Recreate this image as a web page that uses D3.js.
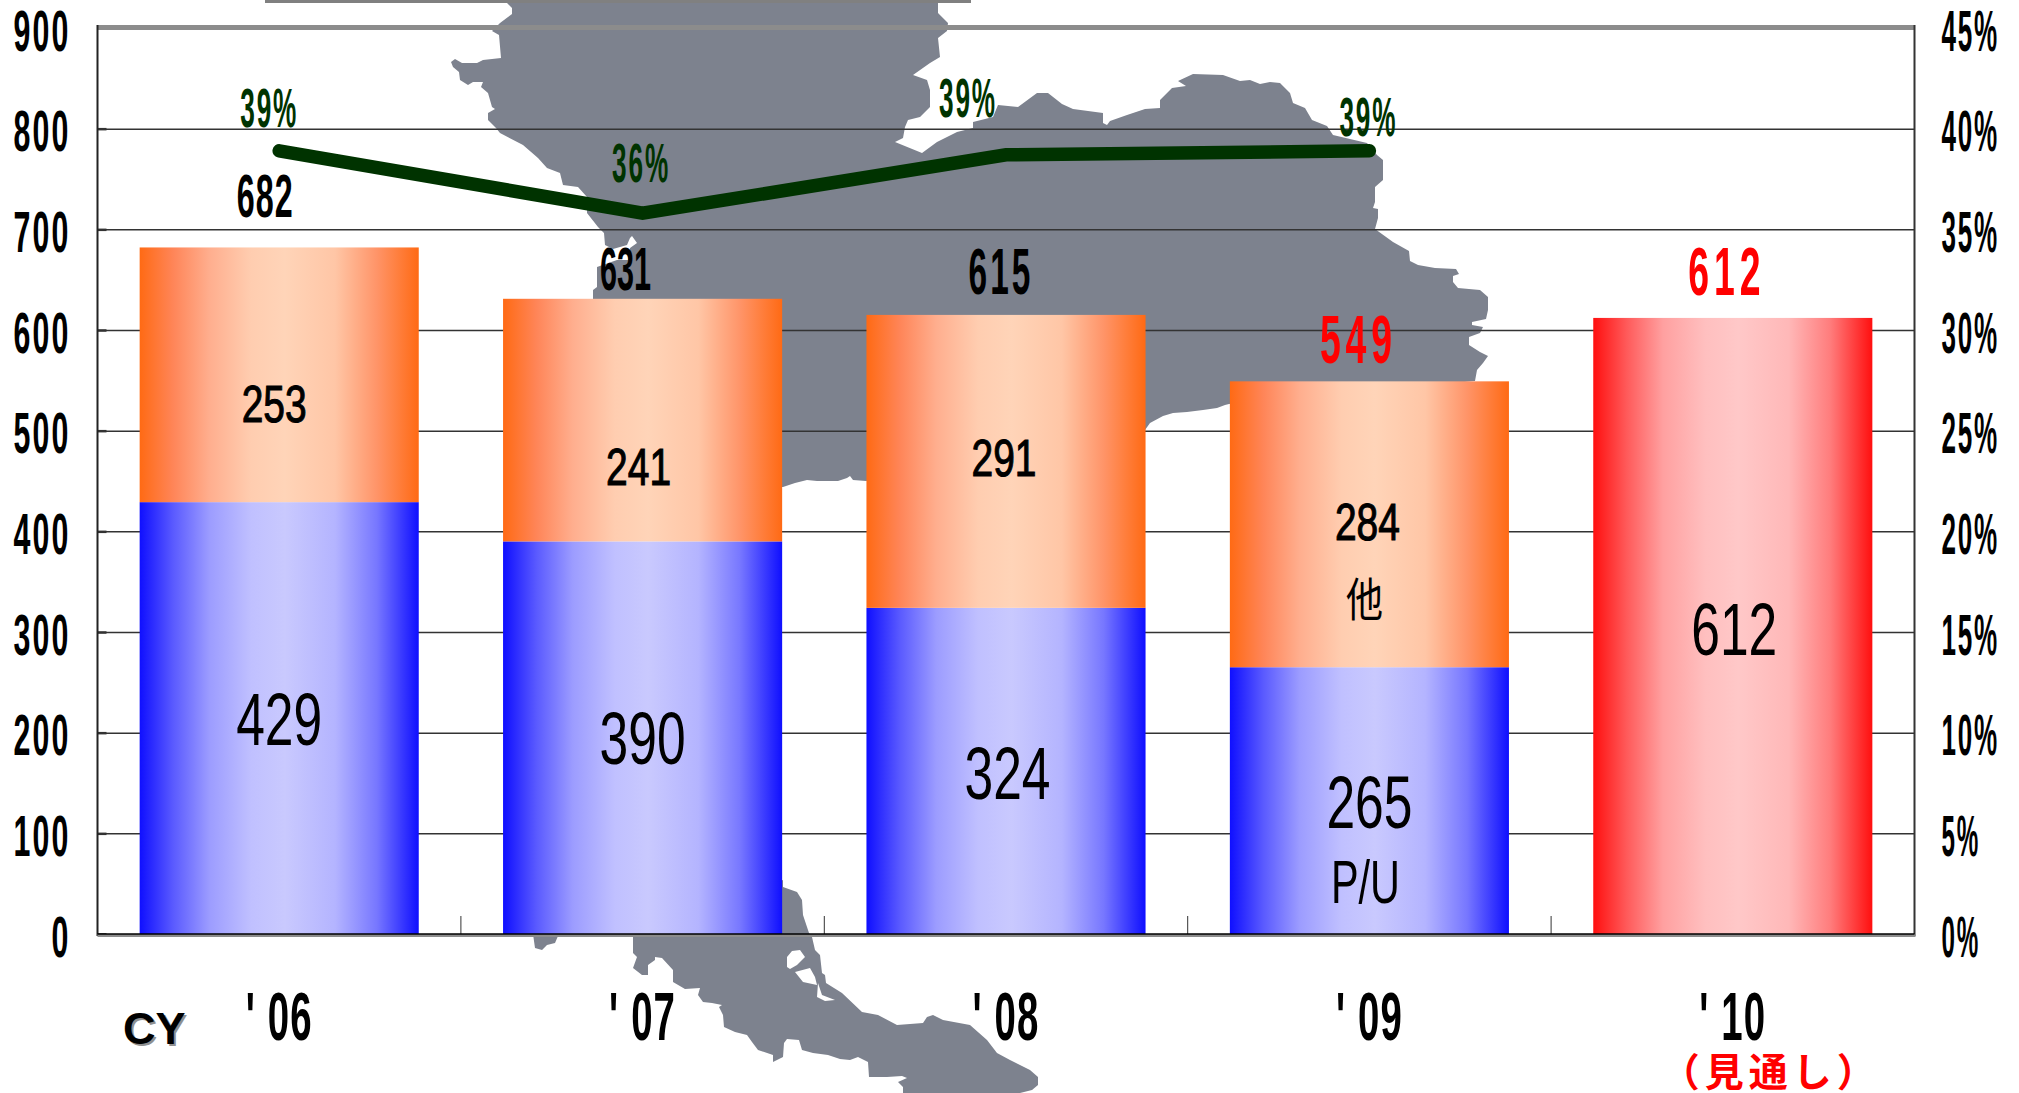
<!DOCTYPE html>
<html>
<head>
<meta charset="utf-8">
<style>
  html, body { margin: 0; padding: 0; background: #fff; }
  svg { display: block; }
  text { font-family: "Liberation Sans", Arial, sans-serif; }
  .cjk { font-family: "Noto Sans CJK JP", sans-serif; }
</style>
<script src="https://cdn.jsdelivr.net/npm/d3@7"></script>
</head>
<body>
<svg id="myGraph" width="2019" height="1093"></svg>
<script>
// data
var categories = ["' 06", "' 07", "' 08", "' 09", "' 10"];
var puValues = [429, 390, 324, 265, 0];
var otherValues = [253, 241, 291, 284, 0];
var forecastValues = [0, 0, 0, 0, 612];
var totalValues = [682, 631, 615, 549, 612];
var ratioValues = [38.9, 35.8, 38.7, 38.9];
var leftTicks = [0, 100, 200, 300, 400, 500, 600, 700, 800, 900];
var rightTicks = [0, 5, 10, 15, 20, 25, 30, 35, 40, 45];

// label nudges, the source labels were placed by hand
var totalNudge = [[-14, -30, 57, 61, 2], [-17, -9, 51, 61, 0], [-5, -21, 65, 65, 6], [-11, -18, 77, 69, 9], [-6, -23, 77, 69, 9]];
var ratioNudge = [[-10, -24], [-1.5, -31], [-38, -38], [-1, -15]];
var puNudge = [[0, 1.5], [0, 1.5], [1.5, 3.5], [0, 2], [1.5, 4]];
var otherNudge = [[-5, 29], [-4, 46], [-2, -4], [-2, -2.5]];

// background map, traced in page pixels
var mapUpper = [[507,3],[512,8],[512,14],[500,23],[492,31],[499,35],[501,58],[483,60],[477,63],[462,63],[455,59],[451,62],[453,67],[459,72],[460,80],[468,85],[473,82],[483,82],[481,87],[488,93],[492,107],[495,109],[488,113],[488,120],[496,128],[500,133],[523,145],[538,158],[547,168],[560,173],[563,185],[578,187],[587,197],[587,213],[598,227],[604,233],[605,245],[613,249],[627,245],[630,238],[632,236],[637,243],[630,248],[628,260],[617,260],[597,267],[597,287],[593,290],[593,299],[600,480],[783,487],[795,483],[807,480],[817,481],[838,481],[847,478],[850,476],[853,480],[866,481],[1145,430],[1150,423],[1163,416],[1173,413],[1187,412],[1203,410],[1217,408],[1225,405],[1229,404],[1475,381],[1477,370],[1483,363],[1488,356],[1480,352],[1469,345],[1469,337],[1480,333],[1483,327],[1472,325],[1472,322],[1486,319],[1488,310],[1488,297],[1480,290],[1458,288],[1453,282],[1453,276],[1459,274],[1456,269],[1435,268],[1418,265],[1410,261],[1409,251],[1393,242],[1375,229],[1378,218],[1378,209],[1373,208],[1375,202],[1375,187],[1383,180],[1383,160],[1377,155],[1367,143],[1333,135],[1327,126],[1312,120],[1305,108],[1293,103],[1290,93],[1280,83],[1270,82],[1260,84],[1250,80],[1240,81],[1223,75],[1193,74],[1178,81],[1186,86],[1172,88],[1160,100],[1160,108],[1145,109],[1127,115],[1110,121],[1107,125],[1103,123],[1103,113],[1073,109],[1062,104],[1048,93],[1037,93],[1018,107],[998,105],[993,117],[973,122],[973,128],[957,132],[937,142],[922,153],[895,142],[903,138],[905,127],[908,120],[920,117],[930,107],[930,90],[927,80],[913,75],[930,63],[940,57],[938,38],[947,31],[948,23],[938,13],[938,3]];
var mapLower = [[633,934],[783,880],[783,887],[797,892],[802,900],[803,915],[807,927],[809,933],[812,937],[815,950],[820,955],[822,973],[825,975],[826,983],[842,993],[862,1012],[878,1015],[897,1025],[923,1023],[927,1017],[933,1015],[943,1020],[970,1025],[987,1040],[997,1053],[1010,1060],[1030,1070],[1038,1077],[1038,1085],[1032,1090],[1020,1093],[903,1093],[903,1087],[898,1082],[907,1078],[902,1076],[887,1077],[869,1077],[868,1062],[858,1057],[850,1060],[840,1059],[828,1055],[813,1053],[802,1050],[799,1040],[787,1039],[784,1043],[783,1057],[773,1062],[773,1055],[758,1050],[752,1042],[747,1035],[735,1032],[724,1027],[723,1015],[719,1007],[722,1005],[712,1003],[703,1002],[698,995],[700,988],[685,989],[673,982],[673,970],[662,958],[655,957],[655,960],[648,965],[648,975],[642,975],[633,968],[637,957],[633,953]];
var mapHoleA = [[787,957],[792,951],[800,950],[805,957],[797,965],[790,969],[787,967]];
var mapHoleB = [[795,972],[810,968],[815,977],[817,985],[803,982]];
var mapHoleC = [[818,983],[822,995],[835,1000],[825,1001],[817,997]];
var mapIslet = [[533,934],[535,948],[542,950],[547,945],[555,943],[558,936]];

var svg = d3.select("#myGraph");

// range limit
var plotLeft = 97.5;
var plotRight = 1914.5;
var plotTop = 28;
var plotBottom = 934;

var x = d3.scaleBand().domain(categories).range([plotLeft, plotRight]).paddingInner(0.232).paddingOuter(0.116);
var y = d3.scaleLinear().domain([0, 900]).range([plotBottom, plotTop]);
var yRatio = d3.scaleLinear().domain([0, 45]).range([plotBottom, plotTop]);

var table = categories.map(function (c, i) {
  return { cat: c, pu: puValues[i], other: otherValues[i], forecast: forecastValues[i] };
});
var stacked = d3.stack().keys(["pu", "other", "forecast"])(table);

// gradients
var defs = svg.append("defs");
var gradOffsets = [0, 0.12, 0.25, 0.4, 0.52, 0.7, 0.85, 1];
function addGradient(id, colors) {
  var g = defs.append("linearGradient").attr("id", id).attr("x1", 0).attr("x2", 1).attr("y1", 0).attr("y2", 0);
  colors.forEach(function (c, i) {
    g.append("stop").attr("offset", gradOffsets[i]).attr("stop-color", c);
  });
}
addGradient("grad-pu", ["#0f0fff", "#5a5aff", "#9c9cff", "#c0c0ff", "#c9c9fe", "#b4b4ff", "#7777ff", "#0f0fff"]);
addGradient("grad-other", ["#ff6a14", "#ff8558", "#ffae8e", "#ffcdb0", "#ffd4b8", "#ffc6a6", "#ff9468", "#ff6a14"]);
addGradient("grad-forecast", ["#ff0f0f", "#ff5a5a", "#ffa0a0", "#ffbfbf", "#ffc8c8", "#ffb8b8", "#ff7c7c", "#ff0f0f"]);

// map
var mapLine = d3.line();
svg.append("rect").attr("x", 265).attr("y", 0).attr("width", 706).attr("height", 3).attr("fill", "#808080");
svg.append("path")
  .attr("d", [mapUpper, mapLower, mapHoleA, mapHoleB, mapHoleC, mapIslet].map(function (p) { return mapLine(p) + "Z"; }).join(""))
  .attr("fill", "#7d828e")
  .attr("fill-rule", "evenodd");

// squeeze text sideways to the narrow look of the original
function squeeze(sel, w) {
  sel.each(function () {
    var sx = w / this.getComputedTextLength();
    var x0 = +this.getAttribute("x") || 0;
    this.setAttribute("x", 0);
    this.setAttribute("transform", "translate(" + x0 + ",0) scale(" + sx + ",1)");
  });
}

// axis y left, tick lines are the grid
var yAxis = d3.axisLeft(y).tickValues(leftTicks).tickSize(-(plotRight - plotLeft)).tickPadding(27);
var gLeft = svg.append("g").attr("class", "axis").attr("transform", "translate(" + plotLeft + ",0)").call(yAxis);
gLeft.select(".domain").remove();
gLeft.selectAll("line").attr("stroke", "#333").attr("stroke-width", 1.5);
gLeft.selectAll(".tick").filter(function (d) { return d === 900 || d === 0; }).select("line").remove();
gLeft.selectAll("text")
  .attr("font-size", 57).attr("font-weight", "bold").attr("fill", "#000")
  .attr("font-family", "Liberation Sans")
  .attr("letter-spacing", 4)
  .attr("dy", "0.39em")
  .each(function (d) { squeeze(d3.select(this), String(d).length * 19); });

// short darker stubs on the left axis
var gStub = svg.append("g").attr("transform", "translate(" + plotLeft + ",0)")
  .call(d3.axisLeft(y).tickValues(leftTicks).tickSize(-9).tickFormat(""));
gStub.select(".domain").remove();
gStub.selectAll("line").attr("stroke", "#333").attr("stroke-width", 2.5);

// axis y right
var yAxisRight = d3.axisRight(yRatio).tickValues(rightTicks).tickSize(0).tickPadding(27).tickFormat(function (d) { return d + "%"; });
var gRight = svg.append("g").attr("class", "axis").attr("transform", "translate(" + plotRight + ",0)").call(yAxisRight);
gRight.select(".domain").remove();
gRight.selectAll("text")
  .attr("font-size", 57).attr("font-weight", "bold").attr("fill", "#000")
  .attr("font-family", "Liberation Sans")
  .attr("letter-spacing", 4)
  .attr("dy", "0.39em")
  .each(function (d) { squeeze(d3.select(this), (String(d).length + 1) * 19.2); });

// frame
svg.append("rect").attr("x", plotLeft).attr("y", plotTop - 3).attr("width", plotRight - plotLeft).attr("height", 5).attr("fill", "#8c8c8c");
svg.append("line").attr("x1", plotLeft).attr("x2", plotLeft).attr("y1", plotTop - 3).attr("y2", plotBottom + 2).attr("stroke", "#222").attr("stroke-width", 2);
svg.append("line").attr("x1", plotRight).attr("x2", plotRight).attr("y1", plotTop - 3).attr("y2", plotBottom + 2).attr("stroke", "#333").attr("stroke-width", 2);

// ticks between the categories
svg.selectAll(".sep").data(categories.slice(1)).enter().append("line")
  .attr("class", "sep")
  .attr("x1", function (d) { return x(d) - (x.step() - x.bandwidth()) / 2; })
  .attr("x2", function (d) { return x(d) - (x.step() - x.bandwidth()) / 2; })
  .attr("y1", plotBottom - 18).attr("y2", plotBottom)
  .attr("stroke", "#333").attr("stroke-width", 1);

// bars
var gradIds = ["grad-pu", "grad-other", "grad-forecast"];
svg.selectAll(".layer").data(stacked).enter().append("g")
  .attr("class", "layer")
  .attr("fill", function (d, i) { return "url(#" + gradIds[i] + ")"; })
  .selectAll("rect").data(function (d) { return d; }).enter().append("rect")
  .attr("x", function (d) { return x(d.data.cat); })
  .attr("y", function (d) { return y(d[1]); })
  .attr("width", x.bandwidth())
  .attr("height", function (d) { return y(d[0]) - y(d[1]); });

// axis x
var xAxis = d3.axisBottom(x).tickSize(0).tickPadding(58);
var gBottom = svg.append("g").attr("class", "axis").attr("transform", "translate(0," + plotBottom + ")").call(xAxis);
gBottom.select(".domain").remove();
gBottom.selectAll("text")
  .attr("font-size", 68).attr("font-weight", "bold").attr("fill", "#000")
  .attr("font-family", "Liberation Sans")
  .attr("letter-spacing", 2)
  .attr("dy", "0.71em")
  .each(function () { squeeze(d3.select(this), 67); });
svg.append("rect").attr("x", plotLeft).attr("y", plotBottom).attr("width", plotRight - plotLeft + 1).attr("height", 3).attr("fill", "#8c8c8c");
svg.append("line").attr("x1", plotLeft).attr("x2", plotRight).attr("y1", plotBottom).attr("y2", plotBottom).attr("stroke", "#000").attr("stroke-width", 1.5);

// ratio line
var ratioLine = d3.line()
  .x(function (d, i) { return x(categories[i]) + x.bandwidth() / 2; })
  .y(function (d) { return yRatio(d); });
svg.append("path")
  .attr("d", ratioLine(ratioValues))
  .attr("fill", "none")
  .attr("stroke", "#003300")
  .attr("stroke-width", 13.5)
  .attr("stroke-linecap", "round")
  .attr("stroke-linejoin", "miter");

function bandMid(i) {
  return x(categories[i]) + x.bandwidth() / 2;
}

// ratio labels
svg.selectAll(".ratioNum").data(ratioValues).enter().append("text")
  .attr("class", "ratioNum")
  .attr("text-anchor", "middle")
  .attr("x", function (d, i) { return bandMid(i) + ratioNudge[i][0]; })
  .attr("y", function (d, i) { return yRatio(d) + ratioNudge[i][1]; })
  .attr("font-size", 56).attr("font-weight", "bold").attr("fill", "#003300")
  .attr("letter-spacing", 4)
  .text(function (d) { return Math.round(d) + "%"; })
  .each(function () { squeeze(d3.select(this), 58); });

// total labels
svg.selectAll(".totalNum").data(totalValues).enter().append("text")
  .attr("class", "totalNum")
  .attr("text-anchor", "middle")
  .attr("x", function (d, i) { return bandMid(i) + totalNudge[i][0]; })
  .attr("y", function (d, i) { return y(d) + totalNudge[i][1]; })
  .attr("font-size", function (d, i) { return totalNudge[i][3]; })
  .attr("letter-spacing", function (d, i) { return totalNudge[i][4]; })
  .attr("font-weight", "bold")
  .attr("fill", function (d, i) { return i >= 3 ? "#ff0000" : "#000"; })
  .text(function (d) { return d; })
  .each(function (d, i) { squeeze(d3.select(this), totalNudge[i][2]); });

// labels inside the bars
var puLabels = puValues.map(function (d, i) { return d || forecastValues[i]; });
svg.selectAll(".puNum").data(puLabels).enter().append("text")
  .attr("class", "puNum")
  .attr("text-anchor", "middle")
  .attr("x", function (d, i) { return bandMid(i) + puNudge[i][0]; })
  .attr("y", function (d, i) { return y(d / 2) + puNudge[i][1] + 25; })
  .attr("font-size", 74).attr("fill", "#000")
  .text(function (d) { return d; })
  .each(function () { squeeze(d3.select(this), 86); });

svg.selectAll(".otherNum").data(otherValues.slice(0, 4)).enter().append("text")
  .attr("class", "otherNum")
  .attr("text-anchor", "middle")
  .attr("x", function (d, i) { return bandMid(i) + otherNudge[i][0]; })
  .attr("y", function (d, i) { return y(puValues[i] + d / 2) + otherNudge[i][1] + 18.5; })
  .attr("font-size", 52).attr("fill", "#000")
  .attr("stroke", "#000").attr("stroke-width", 1.1)
  .text(function (d) { return d; })
  .each(function () { squeeze(d3.select(this), 65); });

// series names, sitting in the '09 bar
var lastBar = bandMid(3);
svg.append("text").attr("text-anchor", "middle").attr("x", lastBar - 4).attr("y", 903)
  .attr("font-size", 61).attr("fill", "#000").text("P/U")
  .call(squeeze, 69);
svg.append("text").attr("class", "cjk").attr("text-anchor", "middle").attr("x", lastBar - 5).attr("y", 616)
  .attr("font-size", 46).attr("fill", "#000").text("他")
  .call(squeeze, 37);

// CY with its shadow
svg.append("text").attr("x", 125).attr("y", 1046)
  .attr("font-size", 45).attr("font-weight", "bold").attr("fill", "#909090").text("CY");
svg.append("text").attr("x", 123).attr("y", 1044)
  .attr("font-size", 45).attr("font-weight", "bold").attr("fill", "#000").text("CY");

// forecast note
svg.append("text").attr("class", "cjk").attr("text-anchor", "middle")
  .attr("x", bandMid(4) + 38).attr("y", 1086)
  .attr("font-size", 39).attr("font-weight", "bold").attr("fill", "#ff0000")
  .attr("letter-spacing", 5)
  .text("（見通し）");
</script>
</body>
</html>
